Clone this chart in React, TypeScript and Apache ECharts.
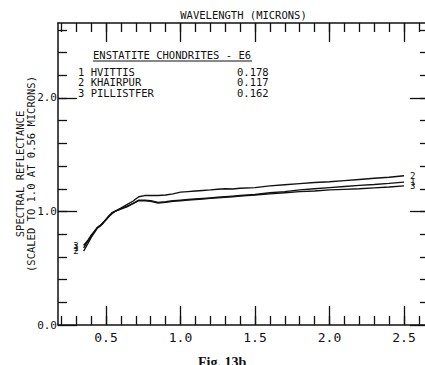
import { useEffect, useRef } from "react";
import * as echarts from "echarts";

// Wavelength sampling (microns) shared by the three spectra
const WAVELENGTH = [
  0.35, 0.38, 0.4, 0.42, 0.44, 0.46, 0.48, 0.5, 0.52, 0.54, 0.56, 0.6, 0.64, 0.68,
  0.72, 0.76, 0.8, 0.85, 0.9, 0.95, 1.0, 1.05, 1.1, 1.15, 1.2, 1.25, 1.3, 1.35, 1.4,
  1.5, 1.6, 1.7, 1.8, 1.9, 2.0, 2.1, 2.2, 2.3, 2.4, 2.5,
];

// Reflectance scaled to 1.0 at 0.56 microns
const HVITTIS = [
  0.68, 0.74, 0.78, 0.82, 0.855, 0.875, 0.9, 0.93, 0.96, 0.985, 1.0, 1.02, 1.04, 1.07,
  1.1, 1.1, 1.095, 1.08, 1.085, 1.095, 1.1, 1.105, 1.11, 1.115, 1.12, 1.125, 1.13, 1.135, 1.14,
  1.15, 1.165, 1.175, 1.19, 1.2, 1.21, 1.22, 1.23, 1.238, 1.247, 1.258,
];
const KHAIRPUR = [
  0.65, 0.72, 0.77, 0.81, 0.85, 0.87, 0.895, 0.93, 0.96, 0.99, 1.0, 1.03, 1.06, 1.09,
  1.13, 1.14, 1.14, 1.14, 1.145, 1.155, 1.17, 1.175, 1.18, 1.185, 1.19, 1.196, 1.2, 1.198, 1.205,
  1.21, 1.225, 1.235, 1.245, 1.255, 1.262, 1.272, 1.282, 1.292, 1.302, 1.315,
];
const PILLISTFER = [
  0.7, 0.75, 0.79, 0.82, 0.855, 0.875, 0.9, 0.925, 0.955, 0.98, 1.0, 1.025, 1.045, 1.07,
  1.095, 1.095, 1.09, 1.075, 1.08, 1.09, 1.095, 1.1, 1.105, 1.11, 1.115, 1.12, 1.125, 1.13, 1.135,
  1.145, 1.155, 1.165, 1.175, 1.18, 1.19, 1.195, 1.2, 1.208, 1.215, 1.225,
];

const SAMPLE_IDS = ["1", "2", "3"];
const SAMPLE_NAMES = ["HVITTIS", "KHAIRPUR", "PILLISTFER"];
const ABS_REFLECTANCE = ["0.178", "0.117", "0.162"];
const SPECTRA = [HVITTIS, KHAIRPUR, PILLISTFER];
const GROUP_TITLE = "ENSTATITE CHONDRITES - E6";

// Axis ticks and labels
const X_MAJOR = [0.5, 1.0, 1.5, 2.0, 2.5];
const X_MINOR = [
  0.2, 0.3, 0.4, 0.5, 0.6, 0.7, 0.8, 0.9, 1.0, 1.1, 1.2, 1.3, 1.4, 1.5, 1.6, 1.7, 1.8,
  1.9, 2.0, 2.1, 2.2, 2.3, 2.4, 2.5, 2.6,
];
const Y_MAJOR = [0, 1.0, 2.0];
const Y_MINOR = [0.2, 0.4, 0.6, 0.8, 1.0, 1.2, 1.4, 1.6, 1.8, 2.0, 2.2, 2.4, 2.6];

const X_MIN = 0.178;
const X_MAX = 2.668;
const Y_MIN = 0;
const Y_MAX = 2.66;

const MONO = "DejaVu Sans Mono";
const INK = "#111";

type Kind = "line" | "major" | "minor" | "labels";

// Each side of the frame is built from stacked axes: one draws the frame line,
// one the long ticks, one the short ticks and one the tick labels.
function axisDef(dim: "x" | "y", position: string, kind: Kind, extra: any = {}) {
  const major = dim === "x" ? X_MAJOR : Y_MAJOR;
  const minor = dim === "x" ? X_MINOR : Y_MINOR;
  return {
    type: "value",
    position,
    min: dim === "x" ? X_MIN : Y_MIN,
    max: dim === "x" ? X_MAX : Y_MAX,
    splitLine: { show: false },
    axisLine: {
      show: kind === "line",
      onZero: false,
      lineStyle: { color: INK, width: 1.5 },
    },
    axisTick: {
      show: kind === "major" || kind === "minor",
      inside: true,
      length: kind === "major" ? 19 : 9,
      customValues: kind === "major" ? major : minor,
      lineStyle: { color: INK, width: 1.3 },
    },
    axisLabel: { show: false },
    ...extra,
  };
}

export default function App() {
  const ref = useRef<HTMLDivElement>(null);

  useEffect(() => {
    if (!ref.current) return;
    const chart = echarts.init(ref.current, undefined, { renderer: "svg" });

    const series = SPECTRA.map((values, s) => ({
      type: "line",
      name: SAMPLE_NAMES[s],
      xAxisIndex: 0,
      yAxisIndex: 0,
      showSymbol: true,
      symbol: "none",
      lineStyle: { color: INK, width: 1.4 },
      itemStyle: { color: INK },
      data: WAVELENGTH.map((w, i) => {
        const last = i === WAVELENGTH.length - 1;
        if (i === 0 || last) {
          return {
            value: [w, values[i]],
            symbol: "circle",
            symbolSize: 0.01,
            label: {
              show: true,
              position: last ? "right" : "left",
              distance: last ? 6 : 5,
              formatter: SAMPLE_IDS[s],
              fontFamily: MONO,
              fontSize: 9,
              color: INK,
            },
          };
        }
        return [w, values[i]];
      }),
    }));

    const legendRows: any[] = [];
    SAMPLE_IDS.forEach((id, i) => {
      const y = 71.5 + i * 10.8;
      legendRows.push({
        type: "text",
        x: 78,
        y,
        style: {
          text: `${id} ${SAMPLE_NAMES[i]}`,
          fontFamily: MONO,
          fontSize: 10.5,
          fill: INK,
          verticalAlign: "middle",
        },
      });
      legendRows.push({
        type: "text",
        x: 237,
        y,
        style: {
          text: ABS_REFLECTANCE[i],
          fontFamily: MONO,
          fontSize: 10.5,
          fill: INK,
          verticalAlign: "middle",
        },
      });
    });

    chart.setOption({
      animation: false,
      backgroundColor: "#fff",
      grid: {
        left: 58,
        top: 23,
        width: 371,
        height: 302,
        containLabel: false,
        outerBoundsMode: "none",
      },
      xAxis: [
        axisDef("x", "bottom", "line"),
        axisDef("x", "bottom", "major"),
        axisDef("x", "bottom", "minor"),
        axisDef("x", "bottom", "labels", {
          axisLabel: {
            show: true,
            customValues: X_MAJOR,
            formatter: (v: number) => v.toFixed(1),
            fontFamily: MONO,
            fontSize: 13,
            color: INK,
            margin: 6,
          },
        }),
        axisDef("x", "top", "line", {
          name: "WAVELENGTH (MICRONS)",
          nameLocation: "middle",
          nameGap: 3,
          nameTextStyle: { fontFamily: MONO, fontSize: 10.5, color: INK },
        }),
        axisDef("x", "top", "major"),
        axisDef("x", "top", "minor"),
      ],
      yAxis: [
        axisDef("y", "left", "line", {
          name: "SPECTRAL REFLECTANCE\n(SCALED TO 1.0 AT 0.56 MICRONS)",
          nameLocation: "middle",
          nameRotate: 90,
          nameGap: 22,
          nameTextStyle: {
            fontFamily: MONO,
            fontSize: 10.5,
            lineHeight: 11,
            color: INK,
            align: "center",
          },
        }),
        axisDef("y", "left", "major"),
        axisDef("y", "left", "minor"),
        axisDef("y", "left", "labels", {
          axisLabel: {
            show: true,
            customValues: Y_MAJOR,
            formatter: (v: number) => v.toFixed(1),
            fontFamily: MONO,
            fontSize: 11,
            color: INK,
            margin: 1,
          },
        }),
        axisDef("y", "right", "line"),
        axisDef("y", "right", "major"),
        axisDef("y", "right", "minor"),
      ],
      series,
      graphic: [
        {
          type: "text",
          x: 93,
          y: 55,
          style: {
            text: GROUP_TITLE,
            fontFamily: MONO,
            fontSize: 10.5,
            fill: INK,
            verticalAlign: "middle",
          },
        },
        {
          type: "line",
          shape: { x1: 93, y1: 61, x2: 252, y2: 61 },
          style: { stroke: INK, lineWidth: 1 },
        },
        ...legendRows,
        {
          type: "text",
          x: 198,
          y: 355,
          style: {
            text: "Fig. 13b",
            fontFamily: "Liberation Serif",
            fontWeight: "bold",
            fontSize: 14,
            fill: INK,
            verticalAlign: "top",
          },
        },
      ],
    });

    return () => chart.dispose();
  }, []);

  return (
    <div
      ref={ref}
      style={{ position: "absolute", left: 0, top: 0, width: 425, height: 365 }}
    />
  );
}
